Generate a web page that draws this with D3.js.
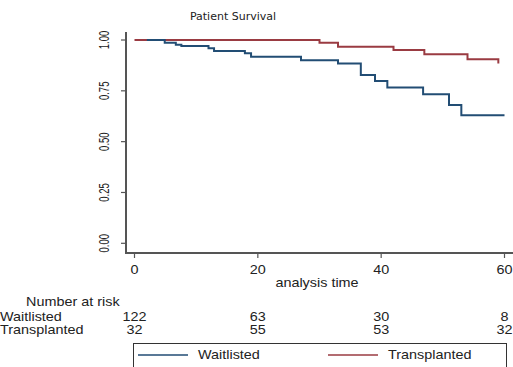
<!DOCTYPE html>
<html>
<head>
  <style>
    body, html { margin: 0; padding: 0; background: #fff; }
    svg { display: block; }
    text { font-family: "Liberation Sans", Arial, sans-serif; fill: #222; }
  </style>
</head>
<body>
  <svg id="svg" width="513" height="367"></svg>
  <script src="https://d3js.org/d3.v7.min.js"></script>
  <script>
    // Kaplan-Meier steps
    const waitTimes = [2, 4.9, 6.7, 7.6, 12, 12.9, 17.9, 18.9, 27, 33, 36.7, 39, 41, 46.8, 51, 53, 60]
    const waitSurv = [1, 0.987, 0.977, 0.970, 0.959, 0.946, 0.935, 0.918, 0.900, 0.885, 0.828, 0.798, 0.766, 0.733, 0.680, 0.630, 0.630]
    const transTimes = [0, 30, 33, 42, 47, 54, 59]
    const transSurv = [1, 0.987, 0.967, 0.951, 0.930, 0.905, 0.885]

    const xTicks = [0, 20, 40, 60]
    const yTicks = [0, 0.25, 0.5, 0.75, 1]
    const groups = ["Waitlisted", "Transplanted"]
    const atRiskWait = [122, 63, 30, 8]
    const atRiskTrans = [32, 55, 53, 32]

    const colors = { Waitlisted: "#224d74", Transplanted: "#9a3b42" }

    const svg = d3.select("#svg")
    const x = d3.scaleLinear().domain([0, 60]).range([134.5, 504.5])
    const y = d3.scaleLinear().domain([0, 1]).range([243.3, 40])

    const axisX = 126, axisY = 253
    const sx = 1.2

    function hText(str, tx, ty, anchor, size) {
      svg.append("text")
        .attr("transform", `translate(${tx},${ty}) scale(${sx},1)`)
        .attr("text-anchor", anchor || "start")
        .style("font-size", (size || 12) + "px")
        .text(str)
    }

    // title
    svg.append("text")
      .attr("x", 233).attr("y", 20)
      .attr("text-anchor", "middle")
      .style("font-family", "'DejaVu Sans', sans-serif")
      .style("font-size", "11px")
      .text("Patient Survival")

    // axes lines
    svg.append("line").attr("x1", axisX).attr("x2", axisX).attr("y1", 32).attr("y2", axisY + 1)
      .attr("stroke", "#555").attr("stroke-width", 2)
    svg.append("line").attr("x1", axisX - 1).attr("x2", 513).attr("y1", axisY).attr("y2", axisY)
      .attr("stroke", "#555").attr("stroke-width", 2)

    // y ticks
    yTicks.forEach(v => {
      svg.append("line").attr("x1", axisX - 5).attr("x2", axisX).attr("y1", y(v)).attr("y2", y(v))
        .attr("stroke", "#555").attr("stroke-width", 1.2)
      svg.append("text")
        .attr("transform", `translate(109,${y(v)}) rotate(-90) scale(0.68,1)`)
        .attr("text-anchor", "middle")
        .style("font-size", "14px")
        .text(d3.format(".2f")(v))
    })

    // x ticks
    xTicks.forEach(v => {
      svg.append("line").attr("x1", x(v)).attr("x2", x(v)).attr("y1", axisY).attr("y2", axisY + 5)
        .attr("stroke", "#555").attr("stroke-width", 1.2)
      hText(v, x(v), 274, "middle")
    })
    hText("analysis time", 317, 287, "middle")

    // survival curves
    const line = d3.line().x(d => x(d[0])).y(d => y(d[1])).curve(d3.curveStepAfter)
    svg.append("path")
      .attr("d", line(d3.zip(transTimes, transSurv)))
      .attr("fill", "none").attr("stroke", colors.Transplanted).attr("stroke-width", 2)
    svg.append("path")
      .attr("d", line(d3.zip(waitTimes, waitSurv)))
      .attr("fill", "none").attr("stroke", colors.Waitlisted).attr("stroke-width", 2)

    // number at risk table
    hText("Number at risk", 26, 306)
    hText(groups[0], 0, 321)
    hText(groups[1], 0, 334)
    xTicks.forEach((v, i) => {
      hText(atRiskWait[i], x(v), 321, "middle")
      hText(atRiskTrans[i], x(v), 334, "middle")
    })

    // legend
    svg.append("rect").attr("x", 133.5).attr("y", 343.5).attr("width", 373).attr("height", 40)
      .attr("fill", "none").attr("stroke", "#333").attr("stroke-width", 1)
    const legX = [138, 328]
    groups.forEach((g, i) => {
      svg.append("line").attr("x1", legX[i]).attr("x2", legX[i] + 50).attr("y1", 355).attr("y2", 355)
        .attr("stroke", colors[g]).attr("stroke-width", 1.3)
      hText(g, legX[i] + 60, 359)
    })
  </script>
</body>
</html>
